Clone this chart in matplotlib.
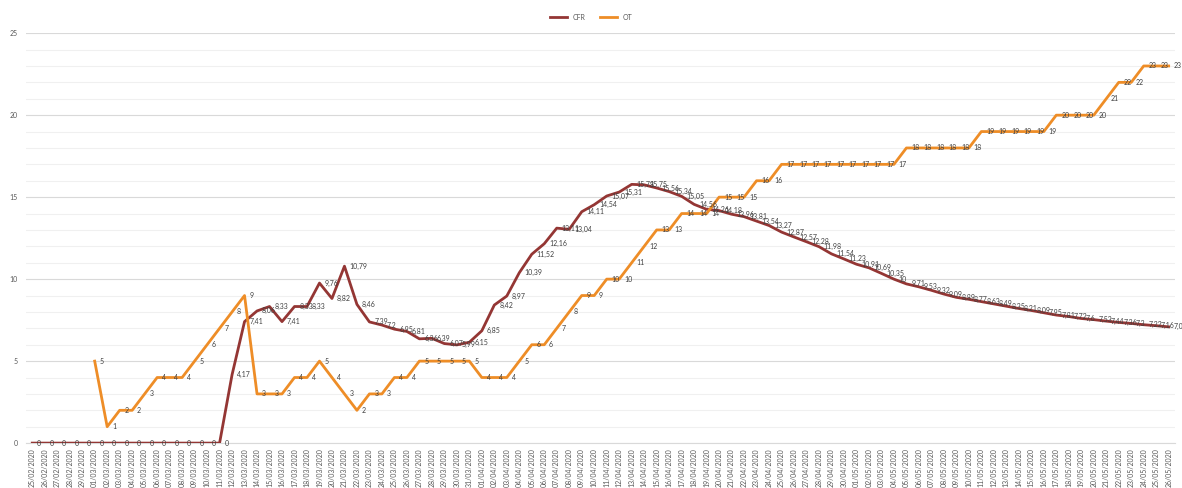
import datetime as dt
import matplotlib
matplotlib.use("Agg")
import matplotlib.pyplot as plt
from matplotlib.ticker import MultipleLocator

plt.rcParams['font.family'] = ['Lato', 'DejaVu Sans']

# Daily dates 25/02/2020 .. 26/05/2020
start = dt.date(2020, 2, 25)
dates = [(start + dt.timedelta(days=i)).strftime("%d/%m/%Y") for i in range(92)]

cfr = [0] * 16 + [
    4.17, 7.41, 8.06, 8.33, 7.41, 8.33, 8.33, 9.76, 8.82, 10.79,
    8.46, 7.39, 7.2, 6.95, 6.81, 6.36, 6.39, 6.07, 5.99, 6.15,
    6.85, 8.42, 8.97, 10.39, 11.52, 12.16, 13.11, 13.04, 14.11, 14.54,
    15.07, 15.31, 15.78, 15.75, 15.56, 15.34, 15.05, 14.56, 14.26, 14.18,
    13.96, 13.81, 13.54, 13.27, 12.87, 12.57, 12.28, 11.98, 11.54, 11.23,
    10.91, 10.69, 10.35, 10, 9.71, 9.53, 9.32, 9.09, 8.89, 8.77,
    8.63, 8.49, 8.35, 8.21, 8.09, 7.95, 7.81, 7.72, 7.6, 7.53,
    7.44, 7.36, 7.3, 7.22, 7.16, 7.09,
]

ot = [None] * 5 + [
    5, 1, 2, 2, 3, 4, 4, 4, 5, 6, 7, 8, 9, 3, 3, 3, 4, 4, 5, 4,
    3, 2, 3, 3, 4, 4, 5, 5, 5, 5, 5, 4, 4, 4, 5, 6, 6, 7, 8, 9,
    9, 10, 10, 11, 12, 13, 13, 14, 14, 14, 15, 15, 15, 16, 16,
    17, 17, 17, 17, 17, 17, 17, 17, 17, 17,
    18, 18, 18, 18, 18, 18, 19, 19, 19, 19, 19, 19,
    20, 20, 20, 20, 21, 22, 22, 23, 23, 23,
]

CFR_COLOR = "#943634"
OT_COLOR = "#EE8D27"
LABEL_COLOR = "#404040"


def fmt(v):
    s = ("%.2f" % v).rstrip("0").rstrip(".")
    return s.replace(".", ",")


fig = plt.figure(figsize=(11.82, 4.88), dpi=100)
ax = fig.add_axes([0.022, 0.092, 0.972, 0.840])

x = list(range(len(dates)))
ot_x = [i for i, v in enumerate(ot) if v is not None]
ot_y = [v for v in ot if v is not None]

ax.plot(x, cfr, color=CFR_COLOR, lw=2.0, label="CFR", solid_joinstyle="round", zorder=3)
ax.plot(ot_x, ot_y, color=OT_COLOR, lw=2.0, label="OT", solid_joinstyle="round", zorder=3)

for xi, v in zip(x, cfr):
    ax.annotate(fmt(v), (xi, v), xytext=(3.5, 0), textcoords="offset points",
                ha="left", va="center", fontsize=5, color=LABEL_COLOR, zorder=4)
for xi, v in zip(ot_x, ot_y):
    ax.annotate(fmt(v), (xi, v), xytext=(3.5, 0), textcoords="offset points",
                ha="left", va="center", fontsize=5, color=LABEL_COLOR, zorder=4)

ax.set_xlim(-0.5, len(dates) - 0.5)
ax.set_ylim(0, 25)
ax.yaxis.set_major_locator(MultipleLocator(5))
ax.yaxis.set_minor_locator(MultipleLocator(1))
ax.grid(which="major", axis="y", color="#d9d9d9", lw=0.8)
ax.grid(which="minor", axis="y", color="#f0f0f0", lw=0.8)
ax.set_axisbelow(True)

ax.set_xticks(x)
ax.set_xticklabels(dates, rotation=90, fontsize=5, color="#595959")
ax.tick_params(axis="x", length=0, pad=3.5)
ax.tick_params(axis="y", which="both", length=0, labelsize=5, labelcolor="#595959", pad=6)

for side in ("top", "right", "left"):
    ax.spines[side].set_visible(False)
ax.spines["bottom"].set_color("#d9d9d9")
ax.spines["bottom"].set_linewidth(0.8)

fig.legend(loc="upper center", bbox_to_anchor=(0.5, 0.985), ncol=2, frameon=False,
           fontsize=5, handlelength=2.5, columnspacing=2.0, labelcolor="#595959")

fig.savefig("out.png", dpi=100, facecolor="white")
